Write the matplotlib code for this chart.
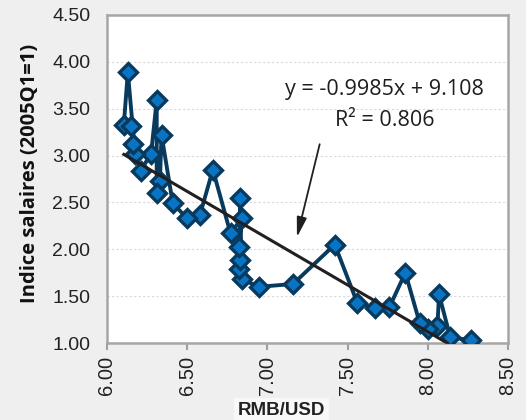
import matplotlib.pyplot as plt
import matplotlib.ticker as ticker
import numpy as np

# RMB/USD rate and wage index (2005Q1=1), in time order
rmb_usd = [8.27, 8.14, 8.07, 8.06, 8.00, 7.95, 7.86, 7.76, 7.67, 7.56,
           7.42, 7.16, 6.95, 6.84, 6.83, 6.825, 6.83, 6.82, 6.84, 6.77,
           6.66, 6.58, 6.50, 6.41, 6.34, 6.33, 6.31, 6.31, 6.275, 6.21,
           6.175, 6.13, 6.105, 6.15, 6.16]
salaires = [1.03, 1.06, 1.52, 1.18, 1.15, 1.21, 1.75, 1.38, 1.37, 1.43,
            2.05, 1.63, 1.60, 1.68, 2.55, 1.79, 1.89, 2.02, 2.33, 2.17,
            2.85, 2.37, 2.33, 2.49, 3.22, 2.73, 2.60, 3.59, 3.02, 2.84,
            3.02, 3.89, 3.33, 3.32, 3.12]

slope = -0.9985
intercept = 9.108

x_ticks = [6.00, 6.50, 7.00, 7.50, 8.00, 8.50]
y_ticks = [1.00, 1.50, 2.00, 2.50, 3.00, 3.50, 4.00, 4.50]

fig = plt.figure(figsize=(5.26, 4.20), dpi=100)
fig.patch.set_facecolor('#efefef')
ax = fig.add_axes([0.2034, 0.1833, 0.7624, 0.781])
ax.set_facecolor('white')

ax.plot(rmb_usd, salaires, color='#083a5e', linewidth=2.8, marker='D',
        markersize=9, markerfacecolor='#0a74c4', markeredgecolor='#083a5e',
        markeredgewidth=2.4, zorder=3)

# linear trend line
xs = np.array([min(rmb_usd), max(rmb_usd)])
ax.plot(xs, slope * xs + intercept, color='#231f20', linewidth=2.2, zorder=4)

ax.text(7.73, 3.70, 'y = -0.9985x + 9.108', ha='center', va='center',
        fontsize=15.5, family='Open Sans', color='#1e1e1e')
ax.text(7.73, 3.37, 'R² = 0.806', ha='center', va='center',
        fontsize=15.5, family='Open Sans', color='#1e1e1e')
ax.annotate('', xy=(7.18, 2.10), xytext=(7.33, 3.15),
            arrowprops=dict(arrowstyle='-|>,head_length=1.2,head_width=0.3',
                            color='#231f20', linewidth=1.3))

ax.set_xlim(6.0, 8.5)
ax.set_ylim(1.0, 4.5)
ax.set_xticks(x_ticks)
ax.set_yticks(y_ticks)
ax.xaxis.set_major_formatter(ticker.FormatStrFormatter('%.2f'))
ax.yaxis.set_major_formatter(ticker.FormatStrFormatter('%.2f'))
ax.tick_params(axis='x', labelrotation=90, labelsize=14.5, length=5,
               width=1.5, colors='#222222', pad=4)
ax.tick_params(axis='x', color='#a0a0a0')
ax.tick_params(axis='y', labelsize=14, length=0, pad=12, colors='#222222')
for lab in ax.get_xticklabels() + ax.get_yticklabels():
    lab.set_family('Liberation Sans')

ax.grid(True, axis='y', color='#d9d9d9', linestyle=(0, (2, 2)), linewidth=0.8)
for sp in ax.spines.values():
    sp.set_color('#a6a6a6')
    sp.set_linewidth(1.8)

fig.text(0.057, 0.588, 'Indice salaires (2005Q1=1)', rotation=90,
         ha='center', va='center', fontsize=14.5, fontweight='bold',
         family='Open Sans', color='#111111')
fig.text(0.535, 0.022, 'RMB/USD', ha='center', va='center', fontsize=13.5,
         fontweight='bold', family='Liberation Sans', color='#222222',
         bbox=dict(facecolor='#f8f8f8', edgecolor='none', pad=3))

plt.savefig('out.png', dpi=100, facecolor=fig.get_facecolor())
